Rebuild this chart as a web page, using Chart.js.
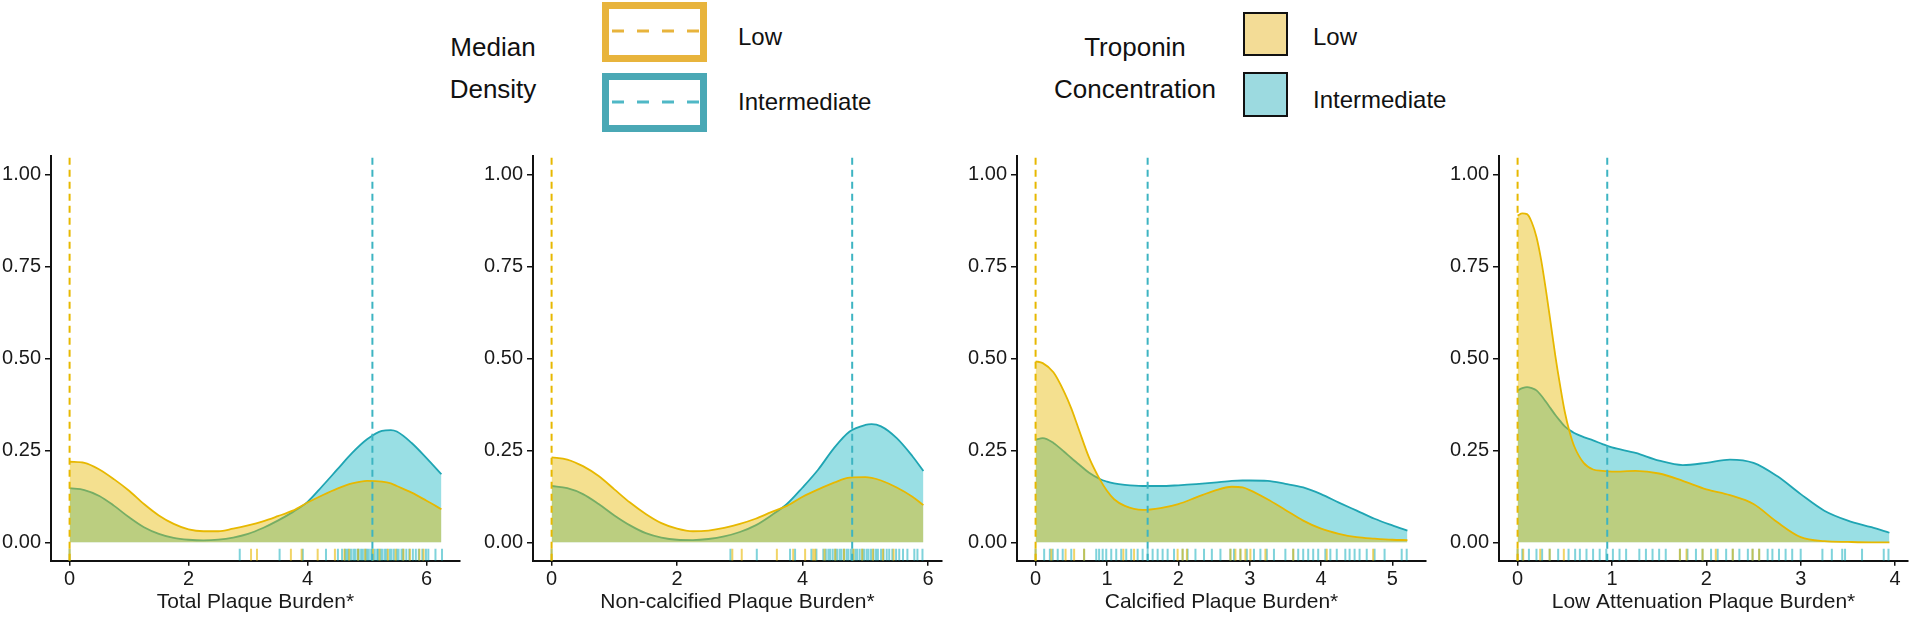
<!DOCTYPE html>
<html>
<head>
<meta charset="utf-8">
<script src="https://cdn.jsdelivr.net/npm/chart.js@4.4.1/dist/chart.umd.min.js"></script>
<style>
  html, body { margin: 0; padding: 0; background: #fff; }
  body {
    width: 1920px; height: 621px; position: relative; overflow: hidden;
    font-family: "Liberation Sans", Arial, sans-serif; color: #111;
  }
  .panel { position: absolute; top: 140px; height: 481px; }
  .txt { position: absolute; white-space: nowrap; line-height: 1; transform: translateY(-50%); }
  .ttl { font-size: 26px; transform: translate(-50%, -50%); }
  .lab { font-size: 24px; }
  .key { position: absolute; box-sizing: border-box; }
</style>
</head>
<body>

<!-- legend: median lines -->
<div class="txt ttl" style="left:493px; top:47px;">Median</div>
<div class="txt ttl" style="left:493px; top:89px;">Density</div>
<div class="key" style="left:602px; top:2px; width:105px; height:60px; border:7px solid #E8B43C;"></div>
<div class="key" style="left:602px; top:73px; width:105px; height:59px; border:7px solid #4AA8B5;"></div>
<svg style="position:absolute; left:0; top:0;" width="720" height="140">
  <line x1="612" y1="31" x2="700" y2="31" stroke="#E8B43C" stroke-width="3" stroke-dasharray="12 13"/>
  <line x1="612" y1="102" x2="700" y2="102" stroke="#4FB8C6" stroke-width="3" stroke-dasharray="12 13"/>
</svg>
<div class="txt lab" style="left:738px; top:37px;">Low</div>
<div class="txt lab" style="left:738px; top:102px;">Intermediate</div>

<!-- legend: troponin fill -->
<div class="txt ttl" style="left:1135px; top:47px;">Troponin</div>
<div class="txt ttl" style="left:1135px; top:89px;">Concentration</div>
<div class="key" style="left:1243px; top:12px; width:45px; height:44px; border:2px solid #111; background:#F3DC96;"></div>
<div class="key" style="left:1243px; top:72px; width:45px; height:45px; border:2px solid #111; background:#9CDAE0;"></div>
<div class="txt lab" style="left:1313px; top:37px;">Low</div>
<div class="txt lab" style="left:1313px; top:100px;">Intermediate</div>

<script>
// ---- data ----
const yTicks = [0, 0.25, 0.5, 0.75, 1.0];

// Total plaque burden
const totalX = [0, 0.25, 0.5, 0.75, 1, 1.25, 1.5, 1.75, 2, 2.25, 2.5, 2.75, 3, 3.25, 3.5, 3.75, 4, 4.25, 4.5, 4.75, 5, 5.25, 5.4, 5.5, 5.75, 6, 6.25];
const totalLow = [0.219, 0.216, 0.198, 0.171, 0.140, 0.104, 0.073, 0.050, 0.035, 0.030, 0.030, 0.037, 0.046, 0.057, 0.071, 0.086, 0.108, 0.128, 0.146, 0.160, 0.167, 0.165, 0.160, 0.153, 0.135, 0.113, 0.090];
const totalInter = [0.147, 0.142, 0.126, 0.099, 0.068, 0.041, 0.023, 0.012, 0.007, 0.005, 0.007, 0.013, 0.023, 0.039, 0.059, 0.082, 0.110, 0.153, 0.198, 0.243, 0.280, 0.303, 0.305, 0.301, 0.270, 0.229, 0.185];
const totalRugLow = [0, 3.05, 3.15, 3.72, 3.90, 4.17, 4.46, 4.62, 4.70, 4.85, 4.97, 5.10, 5.21, 5.35, 5.48, 5.61, 5.72, 5.88, 5.95];
const totalRugInter = [0, 2.86, 3.53, 3.92, 4.31, 4.51, 4.58, 4.63, 4.66, 4.69, 4.73, 4.77, 4.80, 4.84, 4.86, 4.90, 4.93, 4.97, 5.00, 5.03, 5.07, 5.09, 5.13, 5.17, 5.19, 5.23, 5.26, 5.30, 5.33, 5.38, 5.41, 5.45, 5.50, 5.53, 5.58, 5.61, 5.66, 5.71, 5.77, 5.82, 5.87, 5.93, 5.99, 6.03, 6.15, 6.26];

// Non-calcified plaque burden
const noncalcX = [0, 0.25, 0.5, 0.75, 1, 1.25, 1.5, 1.75, 2, 2.25, 2.5, 2.75, 3, 3.25, 3.5, 3.75, 4, 4.25, 4.5, 4.75, 5, 5.1, 5.25, 5.5, 5.75, 5.925];
const noncalcLow = [0.231, 0.225, 0.207, 0.180, 0.144, 0.108, 0.077, 0.052, 0.037, 0.030, 0.032, 0.039, 0.050, 0.064, 0.082, 0.099, 0.124, 0.144, 0.162, 0.176, 0.177, 0.175, 0.168, 0.149, 0.124, 0.101];
const noncalcInter = [0.153, 0.147, 0.131, 0.104, 0.073, 0.046, 0.025, 0.013, 0.007, 0.006, 0.009, 0.016, 0.028, 0.046, 0.073, 0.104, 0.149, 0.198, 0.256, 0.301, 0.319, 0.321, 0.315, 0.283, 0.234, 0.194];
const noncalcRugLow = [0, 2.88, 3.03, 3.59, 3.85, 4.04, 4.17, 4.20, 4.35, 4.52, 4.66, 4.81, 4.95, 5.12, 5.28, 5.45];
const noncalcRugInter = [0, 2.85, 3.27, 3.80, 3.88, 4.14, 4.22, 4.33, 4.37, 4.41, 4.44, 4.48, 4.52, 4.55, 4.59, 4.62, 4.66, 4.70, 4.73, 4.77, 4.80, 4.84, 4.87, 4.91, 4.95, 4.98, 5.02, 5.05, 5.09, 5.13, 5.17, 5.20, 5.25, 5.29, 5.34, 5.38, 5.43, 5.49, 5.54, 5.60, 5.67, 5.78, 5.83, 5.91];

// Calcified plaque burden
const calcX = [0, 0.1, 0.25, 0.4, 0.5, 0.6, 0.75, 0.9, 1.0, 1.1, 1.25, 1.5, 1.75, 2.0, 2.25, 2.5, 2.75, 2.9, 3.0, 3.25, 3.5, 3.75, 4.0, 4.25, 4.5, 4.75, 5.0, 5.21];
const calcLow = [0.492, 0.487, 0.462, 0.409, 0.364, 0.310, 0.230, 0.171, 0.140, 0.117, 0.099, 0.088, 0.093, 0.104, 0.122, 0.140, 0.151, 0.149, 0.142, 0.117, 0.088, 0.059, 0.037, 0.023, 0.014, 0.010, 0.007, 0.006];
const calcInter = [0.279, 0.283, 0.270, 0.246, 0.229, 0.213, 0.189, 0.172, 0.165, 0.160, 0.156, 0.153, 0.153, 0.155, 0.158, 0.162, 0.167, 0.168, 0.168, 0.167, 0.159, 0.149, 0.131, 0.108, 0.086, 0.064, 0.046, 0.032];
const calcRugLow = [0, 0.22, 0.42, 0.54, 0.68, 1.23, 1.38, 1.99, 2.06, 2.12, 2.73, 2.80, 2.87, 2.94, 3.01, 3.22, 3.61, 4.08, 4.73];
const calcRugInter = [0, 0.12, 0.20, 0.24, 0.31, 0.38, 0.50, 0.68, 0.85, 0.89, 0.94, 0.99, 1.06, 1.13, 1.20, 1.27, 1.34, 1.43, 1.50, 1.57, 1.64, 1.71, 1.78, 1.85, 1.94, 2.06, 2.13, 2.24, 2.36, 2.47, 2.59, 2.73, 2.78, 2.87, 2.96, 3.06, 3.15, 3.24, 3.34, 3.50, 3.61, 3.68, 3.75, 3.82, 3.89, 3.96, 4.06, 4.13, 4.22, 4.34, 4.40, 4.47, 4.54, 4.64, 4.75, 4.89, 5.13, 5.20];

// Low attenuation plaque burden
const laX = [0, 0.05, 0.1, 0.15, 0.2, 0.25, 0.3, 0.35, 0.4, 0.45, 0.5, 0.55, 0.6, 0.7, 0.8, 0.9, 1.0, 1.25, 1.5, 1.75, 2.0, 2.25, 2.5, 2.75, 3.0, 3.25, 3.5, 3.75, 3.94];
const laLow = [0.888, 0.894, 0.892, 0.870, 0.830, 0.767, 0.686, 0.597, 0.507, 0.427, 0.355, 0.301, 0.261, 0.216, 0.198, 0.194, 0.192, 0.194, 0.187, 0.167, 0.144, 0.128, 0.104, 0.055, 0.014, 0.003, 0.001, 0.0, 0.0];
const laInter = [0.413, 0.419, 0.422, 0.419, 0.413, 0.399, 0.382, 0.364, 0.346, 0.330, 0.315, 0.305, 0.297, 0.286, 0.277, 0.267, 0.258, 0.243, 0.222, 0.210, 0.216, 0.225, 0.216, 0.180, 0.131, 0.086, 0.059, 0.041, 0.026];
const laRugLow = [0, 0.06, 0.24, 0.34, 0.49, 1.72, 1.79, 1.96, 2.10, 2.28, 2.49, 2.56];
const laRugInter = [0, 0.05, 0.12, 0.20, 0.26, 0.34, 0.43, 0.54, 0.61, 0.66, 0.73, 0.80, 0.87, 0.94, 1.01, 1.08, 1.15, 1.29, 1.36, 1.43, 1.50, 1.57, 1.72, 1.80, 1.89, 1.96, 2.05, 2.12, 2.21, 2.28, 2.35, 2.44, 2.49, 2.56, 2.65, 2.70, 2.77, 2.84, 2.91, 3.00, 3.23, 3.33, 3.44, 3.47, 3.65, 3.88, 3.93];

const medianLow = [0, 0, 0, 0];
const medianInter = [5.09, 4.79, 1.57, 0.95];
const xTitles = ['Total Plaque Burden*', 'Non-calcified Plaque Burden*', 'Calcified Plaque Burden*', 'Low Attenuation Plaque Burden*'];
const xTickValues = [[0, 2, 4, 6], [0, 2, 4, 6], [0, 1, 2, 3, 4, 5], [0, 1, 2, 3, 4]];

// ---- styling ----
const GOLD = '#E7B800'
const TEAL = '#1FA5B3'
const GOLD_FILL = 'rgba(231, 184, 0, 0.44)'
const TEAL_FILL = 'rgba(0, 175, 187, 0.4)'
const TEXT = '#1a1a1a'
const PLOT_LEFT = [51, 533.3, 1016.7, 1499.3]
const PLOT_W = 409
const Y_AXIS_W = 50
const RIGHT_PAD = 12
const RUG_Y = -0.034

const panels = [
  { x: totalX, low: totalLow, inter: totalInter, rugLow: totalRugLow, rugInter: totalRugInter },
  { x: noncalcX, low: noncalcLow, inter: noncalcInter, rugLow: noncalcRugLow, rugInter: noncalcRugInter },
  { x: calcX, low: calcLow, inter: calcInter, rugLow: calcRugLow, rugInter: calcRugInter },
  { x: laX, low: laLow, inter: laInter, rugLow: laRugLow, rugInter: laRugInter },
]

const zip = (xs, ys) => xs.map((x, i) => ({ x: x, y: ys[i] }))
const rug = (xs) => xs.map(x => ({ x: x, y: RUG_Y }))

panels.forEach((p, i) => {
  const wrap = document.createElement('div')
  wrap.className = 'panel'
  const w = PLOT_W + Y_AXIS_W + RIGHT_PAD
  wrap.style.left = (PLOT_LEFT[i] - Y_AXIS_W) + 'px'
  wrap.style.width = w + 'px'
  const cv = document.createElement('canvas')
  cv.width = w
  cv.height = 481
  wrap.appendChild(cv)
  document.body.appendChild(wrap)

  // ggplot-style 5% expansion of the data range
  const xEnd = p.x[p.x.length - 1]
  const ext = xEnd * 0.05

  const medianLine = (v, color) => ({
    data: [{ x: v, y: -0.05 }, { x: v, y: 1.05 }],
    borderColor: color,
    borderWidth: 2,
    borderDash: [7, 5],
    pointRadius: 0,
    fill: false,
    order: 0,
  })
  const rugSet = (xs, color) => ({
    data: rug(xs),
    showLine: false,
    pointStyle: 'line',
    rotation: 90,
    pointRadius: 6,
    pointBorderWidth: 2,
    pointBorderColor: color,
    order: 1,
  })

  new Chart(cv.getContext('2d'), {
    type: 'line',
    data: {
      datasets: [
        medianLine(medianLow[i], GOLD),
        medianLine(medianInter[i], '#3DB4C2'),
        rugSet(p.rugLow, 'rgba(231, 184, 0, 0.6)'),
        rugSet(p.rugInter, 'rgba(0, 168, 184, 0.5)'),
        {
          label: 'Low',
          data: zip(p.x, p.low),
          borderColor: GOLD,
          backgroundColor: GOLD_FILL,
          borderWidth: 1.8,
          pointRadius: 0,
          fill: 'origin',
          cubicInterpolationMode: 'monotone',
          order: 2,
        },
        {
          label: 'Intermediate',
          data: zip(p.x, p.inter),
          borderColor: TEAL,
          backgroundColor: TEAL_FILL,
          borderWidth: 1.8,
          pointRadius: 0,
          fill: 'origin',
          cubicInterpolationMode: 'monotone',
          order: 3,
        },
      ]
    },
    options: {
      responsive: false,
      animation: false,
      events: [],
      layout: { padding: { top: 12.7, right: RIGHT_PAD, left: 0, bottom: 0 } },
      plugins: {
        legend: { display: false },
        tooltip: { enabled: false },
      },
      scales: {
        x: {
          type: 'linear',
          min: -ext,
          max: xEnd + ext,
          afterFit: function(scale) { scale.height = 60.3 },
          afterBuildTicks: function(scale) {
            scale.ticks = xTickValues[i].map(v => ({ value: v }))
          },
          ticks: {
            color: TEXT,
            font: { family: 'Liberation Sans', size: 20 },
            padding: 2,
            maxRotation: 0,
            callback: function(value) { return String(value) }
          },
          grid: {
            drawOnChartArea: false,
            drawTicks: true,
            tickLength: 5,
            color: '#111',
            lineWidth: 1.5,
          },
          border: { display: true, color: '#111', width: 2 },
          title: {
            display: true,
            text: xTitles[i],
            color: TEXT,
            font: { family: 'Liberation Sans', size: 21 },
            padding: { top: 0, bottom: 6 },
          }
        },
        y: {
          min: -0.05,
          max: 1.05,
          afterFit: function(scale) { scale.width = Y_AXIS_W },
          afterBuildTicks: function(scale) {
            scale.ticks = yTicks.map(v => ({ value: v }))
          },
          ticks: {
            color: TEXT,
            font: { family: 'Liberation Sans', size: 20 },
            padding: 4,
            callback: function(value) { return value.toFixed(2) }
          },
          grid: {
            drawOnChartArea: false,
            drawTicks: true,
            tickLength: 6,
            color: '#111',
            lineWidth: 1.5,
          },
          border: { display: true, color: '#111', width: 2 },
        }
      }
    }
  })
})
</script>
</body>
</html>
